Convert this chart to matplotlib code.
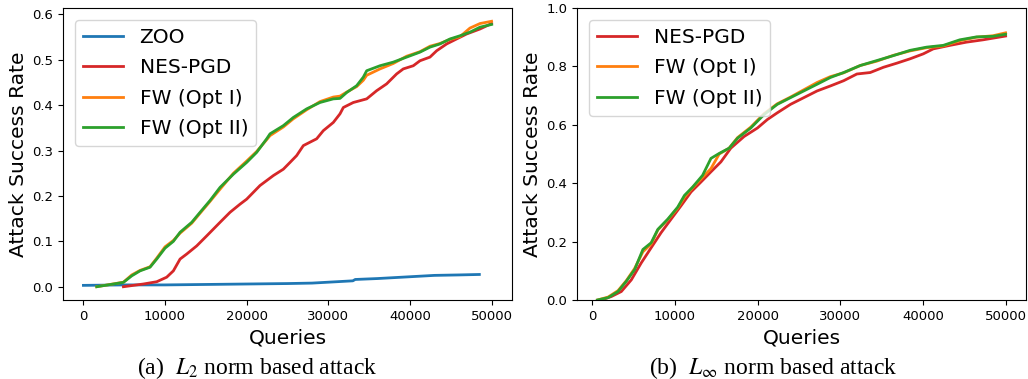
import numpy as np
import matplotlib
matplotlib.use('Agg')
import matplotlib.pyplot as plt

plt.rcParams['mathtext.fontset'] = 'stix'

# (a) L2 attack
zoo_q = [0, 5000, 10000, 15000, 20000, 25000, 28000, 30000, 33000, 33300, 36000, 40000, 43000, 46000, 48500]
zoo_v = [0.003, 0.004, 0.004, 0.005, 0.006, 0.007, 0.008, 0.010, 0.013, 0.016, 0.018, 0.022, 0.025, 0.026, 0.027]

nes2_q = [4900, 7350, 8980, 10200, 11020, 11840, 12650, 13880, 15100, 15920, 16740, 17960, 19190, 20000,
          21630, 23270, 24490, 25310, 26120, 26940, 28570, 29390, 30610, 31430, 31840, 33060, 34700, 35920,
          37140, 38370, 39180, 40410, 41230, 42450, 43270, 44490, 45710, 46940, 48580, 50000]
nes2_v = [0.0, 0.006, 0.011, 0.021, 0.035, 0.061, 0.072, 0.09, 0.112, 0.127, 0.142, 0.164, 0.182, 0.193,
          0.223, 0.245, 0.259, 0.274, 0.289, 0.311, 0.326, 0.344, 0.362, 0.381, 0.395, 0.406, 0.414, 0.432,
          0.447, 0.469, 0.480, 0.487, 0.498, 0.506, 0.520, 0.535, 0.546, 0.557, 0.568, 0.58]

fw1_2_q = [1630, 4900, 5920, 6940, 8160, 8980, 10000, 11020, 11840, 13270, 14290, 15510, 16740, 18370,
           20000, 21220, 22450, 22860, 24490, 25710, 27350, 28980, 30610, 31430, 32250, 33470, 34290, 34700,
           36330, 37960, 39590, 41230, 42450, 43670, 44900, 46120, 47350, 48580, 50000]
fw1_2_v = [0.0, 0.010, 0.026, 0.036, 0.044, 0.063, 0.088, 0.102, 0.118, 0.140, 0.162, 0.188, 0.215, 0.250,
           0.277, 0.298, 0.324, 0.333, 0.352, 0.370, 0.390, 0.408, 0.418, 0.420, 0.429, 0.441, 0.455, 0.466,
           0.480, 0.492, 0.508, 0.518, 0.530, 0.536, 0.545, 0.551, 0.570, 0.580, 0.585]

fw2_2_q = fw1_2_q
fw2_2_v = [0.0, 0.0096, 0.024, 0.035, 0.043, 0.061, 0.085, 0.100, 0.120, 0.142, 0.164, 0.190, 0.219, 0.248,
           0.274, 0.296, 0.326, 0.337, 0.355, 0.373, 0.392, 0.406, 0.414, 0.415, 0.428, 0.443, 0.462, 0.476,
           0.487, 0.495, 0.506, 0.517, 0.528, 0.535, 0.546, 0.553, 0.561, 0.572, 0.578]

# (b) Linf attack
nesi_q = [1120, 2330, 3530, 4740, 5940, 7140, 8350, 9550, 10760, 11960, 13160, 14370, 15570, 16770, 18380,
          19990, 21190, 22390, 23990, 25600, 27210, 28810, 30420, 32020, 33630, 35230, 36840, 38450, 40050,
          41250, 43260, 45260, 47270, 50000]
nesi_v = [0.0, 0.012, 0.029, 0.069, 0.127, 0.179, 0.231, 0.277, 0.323, 0.37, 0.404, 0.439, 0.473, 0.52, 0.56,
          0.589, 0.618, 0.641, 0.67, 0.693, 0.716, 0.733, 0.751, 0.774, 0.779, 0.797, 0.811, 0.826, 0.843,
          0.86, 0.872, 0.883, 0.891, 0.904]

fwi_q = [640, 1930, 3130, 4130, 5140, 6140, 7140, 7950, 9150, 10350, 11160, 12160, 13360, 14370, 15370, 16570,
         17580, 19180, 20790, 22390, 23990, 25600, 27210, 28810, 30420, 32420, 34430, 36440, 38450, 40450,
         42460, 44460, 46470, 48480, 50000]
fw1i_v = [0.0, 0.010, 0.032, 0.066, 0.108, 0.165, 0.192, 0.240, 0.275, 0.315, 0.352, 0.385, 0.420, 0.450,
          0.500, 0.520, 0.556, 0.592, 0.638, 0.672, 0.695, 0.720, 0.745, 0.765, 0.778, 0.803, 0.818, 0.838,
          0.853, 0.864, 0.870, 0.888, 0.900, 0.905, 0.915]
fw2i_v = [0.0, 0.008, 0.029, 0.064, 0.104, 0.173, 0.196, 0.242, 0.277, 0.318, 0.358, 0.387, 0.427, 0.485,
          0.502, 0.52, 0.554, 0.589, 0.635, 0.67, 0.693, 0.716, 0.739, 0.762, 0.779, 0.803, 0.82, 0.837,
          0.855, 0.866, 0.872, 0.891, 0.901, 0.903, 0.91]

fig = plt.figure(figsize=(10.28, 3.79), dpi=100)
ax1 = fig.add_axes([63 / 1028, 79 / 379, 449 / 1028, 292 / 379])
ax2 = fig.add_axes([577 / 1028, 79 / 379, 449 / 1028, 292 / 379])

lw = 2.0
ax1.plot(zoo_q, zoo_v, color='tab:blue', lw=lw, label='ZOO')
ax1.plot(nes2_q, nes2_v, color='tab:red', lw=lw, label='NES-PGD')
ax1.plot(fw1_2_q, fw1_2_v, color='tab:orange', lw=lw, label='FW (Opt I)')
ax1.plot(fw2_2_q, fw2_2_v, color='tab:green', lw=lw, label='FW (Opt II)')
ax1.set_yticks([0.0, 0.1, 0.2, 0.3, 0.4, 0.5, 0.6])

ax2.plot(nesi_q, nesi_v, color='tab:red', lw=lw, label='NES-PGD')
ax2.plot(fwi_q, fw1i_v, color='tab:orange', lw=lw, label='FW (Opt I)')
ax2.plot(fwi_q, fw2i_v, color='tab:green', lw=lw, label='FW (Opt II)')
ax2.set_ylim(0, 1.0)

for ax in (ax1, ax2):
    ax.set_xticks([0, 10000, 20000, 30000, 40000, 50000])
    ax.tick_params(labelsize=9.5)
    ax.set_xlabel('Queries', fontsize=14.5, labelpad=4)
    ax.set_ylabel('Attack Success Rate', fontsize=14.6, labelpad=3)
    ax.legend(loc='upper left', fontsize=14.5, borderaxespad=0.6, labelspacing=0.56)

fig.text(257 / 1028, 1 - 368 / 379, r'(a)  $L_2$ norm based attack', ha='center', va='center',
         fontsize=17, family='Liberation Serif')
fig.text(773 / 1028, 1 - 368 / 379, r'(b)  $L_\infty$ norm based attack', ha='center', va='center',
         fontsize=17, family='Liberation Serif')

fig.savefig('out.png', dpi=100)
